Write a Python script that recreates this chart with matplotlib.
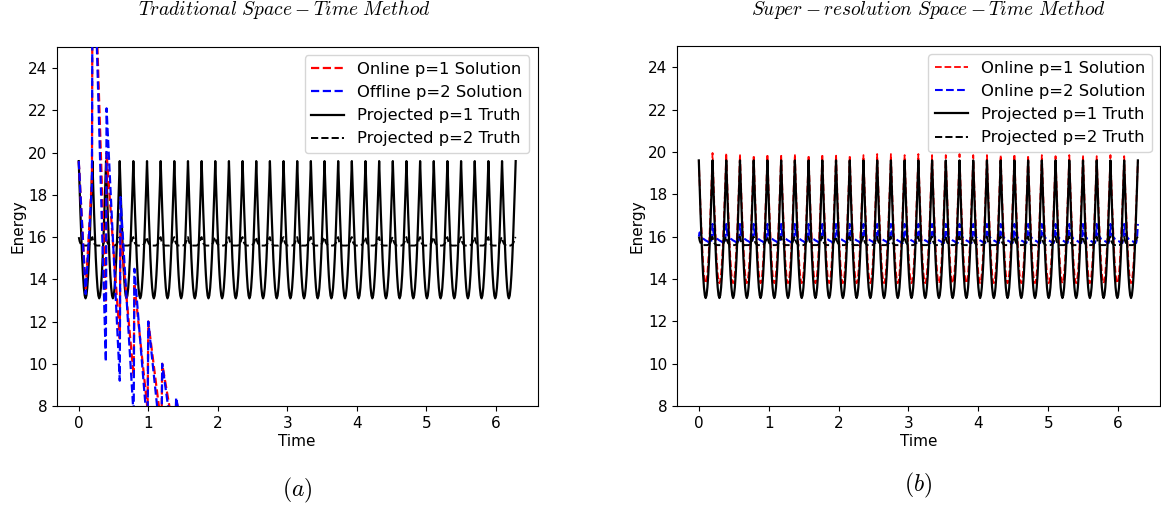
import numpy as np
import matplotlib
matplotlib.use("Agg")
import matplotlib.pyplot as plt

plt.rcParams['mathtext.fontset'] = 'cm'

# === data ===
n_cycles = 32
t_end = 2 * np.pi

# one period of the projected truths, 16 samples per period (phase 0 = peak)
p1_truth_period = [19.6, 18.33, 17.11, 15.99, 15.0, 14.2, 13.6, 13.23,
                   13.1, 13.23, 13.6, 14.2, 15.0, 15.99, 17.11, 18.33]
p2_truth_period = [16.0, 15.8, 15.7, 15.65, 15.62, 15.6, 15.6, 15.6,
                   15.6, 15.6, 15.6, 15.62, 15.65, 15.7, 15.8, 15.95]

# super-resolution online p=2: sawtooth over one period
p2_online_period = [16.6, 16.2, 16.05, 16.0, 15.95, 15.9, 15.88, 15.85,
                    15.82, 15.8, 15.78, 15.75, 15.72, 15.7, 15.7, 15.9]
p2_online_start = 16.0

# super-resolution online p=1: peak per cycle and trough level
p1_online_peaks = [19.6, 19.95, 19.95, 19.9, 19.85, 19.9, 19.9, 19.9, 19.85,
                   19.9, 19.9, 19.85, 19.85, 19.9, 19.9, 19.85, 19.9, 19.85,
                   19.85, 19.9, 19.85, 19.85, 19.85, 19.9, 19.85, 19.85, 19.8,
                   19.85, 19.85, 19.8, 19.85, 19.8, 19.6]
p1_online_floor = 13.8

# traditional method: diverging solutions
trad_t = [0, 0.1, 0.19, 0.2, 0.39, 0.4, 0.59, 0.6, 0.79, 0.8,
          0.99, 1.0, 1.19, 1.2, 1.39, 1.4, 1.59]
trad_online_p1 = [19.6, 13.5, 18.8, 32, 12.6, 20.0, 11.2, 16.3, 9.4, 13.8,
                  7.8, 12.0, 7.0, 10.0, 6.3, 8.3, 5.5]
trad_offline_p2 = [19.6, 13.3, 18.5, 32, 10.1, 22.1, 9.2, 17.9, 7.5, 14.5,
                   6.8, 12.0, 6.0, 10.0, 5.5, 8.4, 5.0]

# === build series ===
n_per = len(p1_truth_period)
t = np.linspace(0, t_end, n_cycles * n_per + 1)
p1_truth = np.append(np.tile(p1_truth_period, n_cycles), p1_truth_period[0])
p2_truth = np.append(np.tile(p2_truth_period, n_cycles), p2_truth_period[0])
p2_online = np.append(np.tile(p2_online_period, n_cycles), p2_online_period[0])
p2_online[0] = p2_online_start

shape = (p1_truth - min(p1_truth_period)) / (max(p1_truth_period) - min(p1_truth_period))
peak_idx = np.rint(np.arange(len(t)) / n_per).astype(int)
p1_online = p1_online_floor + shape * (np.array(p1_online_peaks)[peak_idx] - p1_online_floor)

# === figure ===
fig = plt.figure(figsize=(11.61, 5.12), dpi=100)
ax1 = fig.add_axes([0.049, 0.207, 0.414, 0.701])
ax2 = fig.add_axes([0.583, 0.207, 0.416, 0.703])

fs = 11
lfs = 11.8

# (a) traditional
ax1.plot(t, p1_truth, '-', color='black', lw=1.6, zorder=1)
ax1.plot(t, p2_truth, '--', color='black', lw=1.4, zorder=1)
l_r, = ax1.plot(trad_t, trad_online_p1, '--', color='red', lw=1.6, zorder=2)
l_b, = ax1.plot(trad_t, trad_offline_p2, '--', color='blue', lw=1.6, zorder=3)
h_k = plt.Line2D([], [], color='black', lw=1.6)
h_kd = plt.Line2D([], [], color='black', lw=1.4, ls='--')
ax1.legend([l_r, l_b, h_k, h_kd],
           ['Online p=1 Solution', 'Offline p=2 Solution',
            'Projected p=1 Truth', 'Projected p=2 Truth'],
           loc='upper right', fontsize=lfs)

# (b) super-resolution
ax2.plot(t, p1_online, '--', color='red', lw=1.3, label='Online p=1 Solution')
ax2.plot(t, p2_online, '--', color='blue', lw=1.5, label='Online p=2 Solution')
ax2.plot(t, p1_truth, '-', color='black', lw=1.6, label='Projected p=1 Truth')
ax2.plot(t, p2_truth, '--', color='black', lw=1.4, label='Projected p=2 Truth')
ax2.legend(loc='upper right', fontsize=lfs)

for ax in (ax1, ax2):
    ax.set_ylim(8, 25)
    ax.set_yticks(range(8, 25, 2))
    ax.set_xticks(range(0, 7))
    ax.tick_params(labelsize=fs)
    ax.set_xlabel('Time', fontsize=fs, labelpad=2)
    ax.set_ylabel('Energy', fontsize=fs, labelpad=2)

fig.text(0.245, 0.982, r'$Traditional\ Space-Time\ Method$', ha='center', va='center', fontsize=14)
fig.text(0.800, 0.982, r'$Super-resolution\ Space-Time\ Method$', ha='center', va='center', fontsize=14)
fig.text(0.256, 0.043, r'$(a)$', ha='center', va='center', fontsize=17)
fig.text(0.791, 0.051, r'$(b)$', ha='center', va='center', fontsize=17)

fig.savefig('out.png', dpi=100)
